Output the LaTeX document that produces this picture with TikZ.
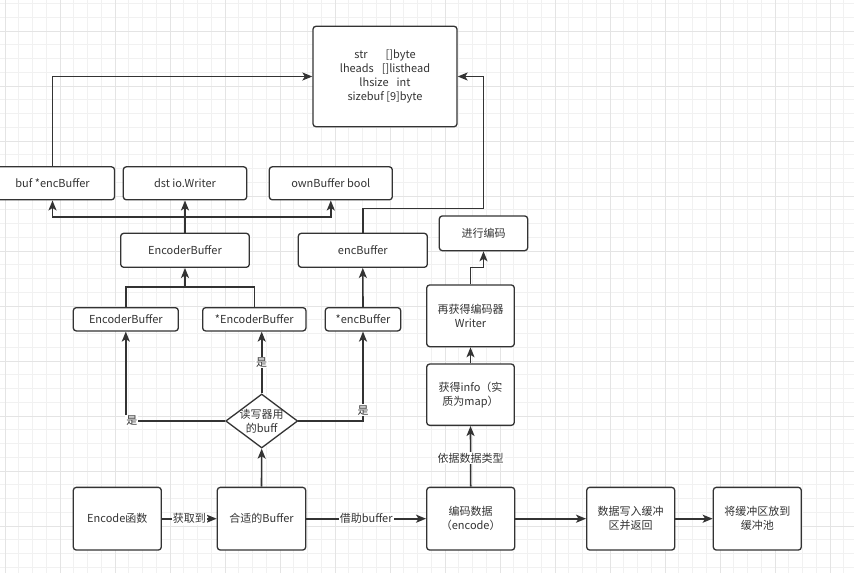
\documentclass[tikz,border=0pt]{standalone}
\usepackage{fontspec}
\setmainfont{Noto Sans CJK SC}
\usetikzlibrary{arrows.meta,shapes.geometric}
\definecolor{ln}{HTML}{333333}
\definecolor{gmin}{HTML}{F1F1F1}
\definecolor{gmaj}{HTML}{E4E4E4}
\begin{document}
\begin{tikzpicture}[x=1pt,y=-1pt,
 box/.style={draw=ln,line width=1.3pt,rounded corners=3pt,fill=white,align=center,font=\fontsize{11}{14}\selectfont,text=ln,inner sep=0pt},
 conn/.style={draw=ln,line width=1.6pt},
 arr/.style={conn,-{Stealth[length=10pt,width=8pt,inset=2.5pt]}},
 lbl/.style={fill=white,inner sep=1pt,font=\fontsize{11}{13}\selectfont,text=ln}]
\useasboundingbox (0,0) rectangle (854,573);
\clip (0,0) rectangle (854,573);
\fill[white] (0,0) rectangle (854,573);
% grid
\foreach \i in {-1,...,62} { \draw[gmin,line width=0.8pt] ({5+13.75*\i},0) -- ++(0,573); }
\foreach \i in {-3,...,40} { \draw[gmin,line width=0.8pt] (0,{31+13.75*\i}) -- ++(854,0); }
\foreach \i in {0,...,15} { \draw[gmaj,line width=0.9pt] ({5+55*\i},0) -- ++(0,573); }
\foreach \i in {0,...,9} { \draw[gmaj,line width=0.9pt] (0,{31+55*\i}) -- ++(854,0); }

% nodes
\node[box,minimum width=144pt,minimum height=100.5pt] (top) at (385,76.5)
 {str\hspace{18pt}[]byte\\lheads\hspace{8pt}[]listhead\\lhsize\hspace{8pt}int\\sizebuf [9]byte};
\node[box,minimum width=124pt,minimum height=33pt] (buf) at (52.5,183.3) {buf *encBuffer};
\node[box,minimum width=123.4pt,minimum height=33pt] (dst) at (185,183.3) {dst io.Writer};
\node[box,minimum width=123pt,minimum height=33pt] (own) at (330.8,183.3) {ownBuffer bool};
\node[box,minimum width=128.6pt,minimum height=34pt] (ebu) at (185,250.3) {EncoderBuffer};
\node[box,minimum width=129pt,minimum height=34pt] (encb) at (362.8,250.3) {encBuffer};
\node[box,minimum width=88.4pt,minimum height=34.7pt] (go) at (483.5,233.3) {进行编码};
\node[box,minimum width=87.6pt,minimum height=61.7pt] (rw) at (470.5,315.8) {再获得编码器\\Writer};
\node[box,minimum width=87.6pt,minimum height=61.3pt] (info) at (470.5,394.7) {获得info（实\\质为map）};
\node[box,minimum width=105pt,minimum height=23.3pt] (ebl) at (125.8,319.3) {EncoderBuffer};
\node[box,minimum width=103.3pt,minimum height=23.3pt] (seb) at (254.3,319.3) {*EncoderBuffer};
\node[box,minimum width=75.4pt,minimum height=23.3pt] (senc) at (363,319.3) {*encBuffer};
\node[draw=ln,line width=1.3pt,diamond,minimum width=72pt,minimum height=54pt,inner sep=0pt,fill=white] (dia) at (261.7,421) {};
\node[align=center,font=\fontsize{11}{14}\selectfont,text=ln,inner sep=0pt] (diat) at (dia.center) {读写器用\\的buff};
\node[box,minimum width=88pt,minimum height=62.7pt] (enc) at (117.3,518.7) {Encode函数};
\node[box,minimum width=88.4pt,minimum height=62.7pt] (fit) at (261.5,518.7) {合适的Buffer};
\node[box,minimum width=88pt,minimum height=62.7pt] (ed) at (470.7,518.7) {编码数据\\（encode）};
\node[box,minimum width=88pt,minimum height=62.7pt] (wr) at (630.7,518.7) {数据写入缓冲\\区并返回};
\node[box,minimum width=88pt,minimum height=62.7pt] (pool) at (757.3,518.7) {将缓冲区放到\\缓冲池};

\coordinate (c1) at (483.3,208.3);
\coordinate (j1) at (185,216.8);
\coordinate (j2) at (185,286.7);

% connectors
\draw[arr] (buf.north) |- (top.west);
\draw[arr] (encb.north) |- (c1) |- (top.east);
\draw[arr] (ebu.north) -- (dst.south);
\draw[arr] (j1) -| (buf.south);
\draw[arr] (j1) -| (own.south);
\draw[conn] (ebl.north) |- (j2) -| (seb.north);
\draw[arr] (j2) -- (ebu.south);
\draw[arr] (senc.north) -- (encb.south);
\draw[arr] (dia.west) -| node[lbl,pos=0.47] {是} (ebl.south);
\draw[arr] (dia.north) -- node[lbl] {是} (dia.north |- seb.south);
\draw[arr] (dia.east) -| node[lbl,pos=0.56] {是} (senc.south);
\draw[arr] (fit.north) -- (dia.south);
\draw[arr] (enc.east) -- node[lbl] {获取到} (fit.west);
\draw[arr] (fit.east) -- node[lbl] {借助buffer} (ed.west);
\draw[arr] (ed.north) -- node[lbl,pos=0.47] {依据数据类型} (info.south);
\draw[arr] (info.north) -- (rw.south);
\draw[arr] (rw.north) -- ++(0,-16.7) -| (go.south);
\draw[arr] (ed.east) -- (wr.west);
\draw[arr] (wr.east) -- (pool.west);
\end{tikzpicture}
\end{document}
